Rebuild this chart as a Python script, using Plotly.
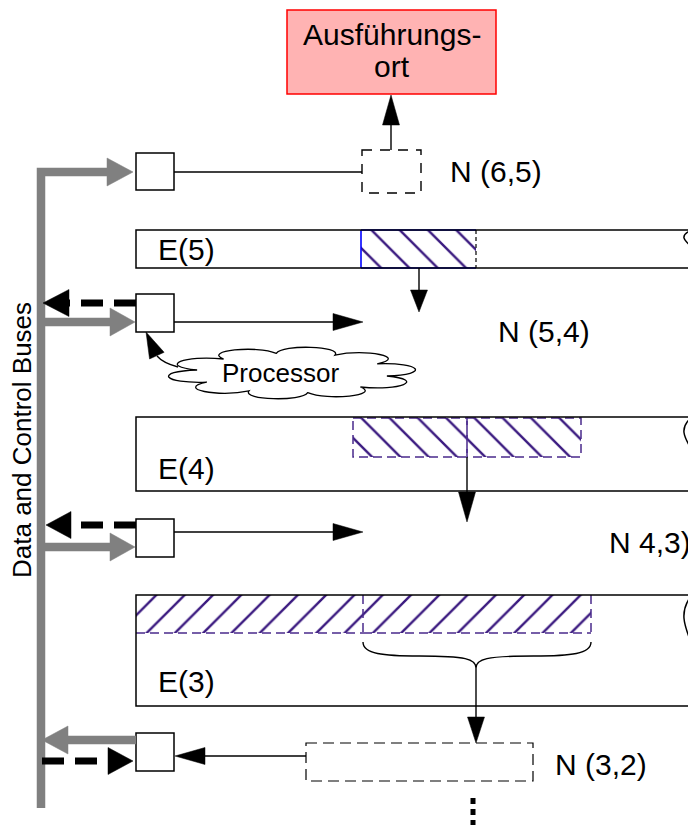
import math
import plotly.graph_objects as go

W, H = 696, 825
OFF = 8  # default page margin of the browser body
FONT = "Liberation Sans, Arial, Helvetica, sans-serif"

# ---------------- text content ----------------
title_lines = ["Ausführungs-", "ort"]
bus_label = "Data and Control Buses"
cloud_label = "Processor"
node_labels = ["N (6,5)", "N (5,4)", "N 4,3)", "N (3,2)"]
bar_labels = ["E(5)", "E(4)", "E(3)"]

# ---------------- geometry (pixel space) ----------------
title_box = [287, 496, 10, 94]            # x0, x1, y0, y1
title_line_y = [34, 66]

node_label_x = [448, 496, 607, 553]
node_label_y = [171, 331, 542, 764]

bar_left, bar_right = 136, 692
bar_top = [230, 417, 595]
bar_bottom = [268, 491, 706]
bar_label_x = 156
bar_label_y = [249, 468, 681]

sq_x0, sq_x1 = 136, 174
sq_top = [153, 294, 519, 733]
sq_bottom = [190, 332, 557, 771]

# hatched storage segments
hatch_x0 = [361, 353, 467, 136, 363]
hatch_x1 = [476, 467, 581, 363, 591]
hatch_y0 = [230, 418, 418, 595, 595]
hatch_y1 = [268, 457, 457, 633, 633]
hatch_dir = ["\\", "\\", "\\", "/", "/"]

# dashed (virtual) node boxes
vbox_x0 = [362, 306]
vbox_x1 = [421, 533]
vbox_y0 = [150, 743]
vbox_y1 = [193, 781]

bus_x, bus_top, bus_bottom = 41, 172, 808

# arrows: start x, start y, tip x, tip y, head length, kind
arr_x0 = [391, 419, 467, 476, 174, 174, 306, 41, 41, 41, 136, 136, 136, 42]
arr_y0 = [150, 268, 457, 668, 322, 532, 756, 172, 322, 547, 740, 303, 525, 761]
arr_x1 = [391, 419, 467, 476, 363, 363, 175, 133, 135, 135, 42, 43, 46, 133]
arr_y1 = [95, 312, 522, 743, 322, 532, 756, 172, 322, 547, 740, 303, 525, 761]
arr_len = [30, 22, 30, 26, 30, 30, 30, 26, 25, 25, 26, 26, 25, 25]
arr_kind = ["thin"] * 7 + ["gray"] * 4 + ["dash"] * 3

cloud_cx, cloud_cy, cloud_rx, cloud_ry = 292, 373, 96, 20

STYLE = {
    "thin": dict(width=1.4, color="black", dash="solid", head_w=17),
    "gray": dict(width=8.5, color="#808080", dash="solid", head_w=28),
    "dash": dict(width=7, color="black", dash="22px,11px", head_w=27),
}
HATCH_COLOR = "#3b1a80"

fig = go.Figure()
shapes = []
annotations = []


def seg(x0, y0, x1, y1, color="black", width=1.4, dash="solid"):
    shapes.append(dict(type="line", x0=x0, y0=y0, x1=x1, y1=y1, xref="x", yref="y",
                       line=dict(color=color, width=width, dash=dash)))


def head(tx, ty, ux, uy, L, Wd, color):
    bx, by = tx - ux * L, ty - uy * L
    px, py = -uy * Wd / 2, ux * Wd / 2
    path = f"M{tx},{ty} L{bx + px},{by + py} L{bx - px},{by - py} Z"
    shapes.append(dict(type="path", path=path, xref="x", yref="y",
                       fillcolor=color, line=dict(color=color, width=0.5)))


# ---------------- hatched fills (patterns) ----------------
for x0, x1, y0, y1, d in zip(hatch_x0, hatch_x1, hatch_y0, hatch_y1, hatch_dir):
    fig.add_trace(go.Scatter(
        x=[x0, x1, x1, x0, x0], y=[y0, y0, y1, y1, y0], mode="lines",
        fill="toself", fillcolor="white",
        fillpattern=dict(shape=d, size=20, solidity=0.12, fgcolor=HATCH_COLOR,
                         fgopacity=1, bgcolor="white"),
        line=dict(width=0, color="rgba(0,0,0,0)"), hoverinfo="skip", showlegend=False))

# borders of hatched regions
seg(hatch_x0[0], hatch_y0[0], hatch_x1[0], hatch_y0[0], "#0000ff", 1.6)
seg(hatch_x0[0], hatch_y1[0], hatch_x1[0], hatch_y1[0], "#0000ff", 1.6)
seg(hatch_x0[0], hatch_y0[0], hatch_x0[0], hatch_y1[0], "#0000ff", 1.6)
seg(hatch_x1[0], hatch_y0[0], hatch_x1[0], hatch_y1[0], "black", 1.2, "4px,3px")
for i in (1, 2):
    shapes.append(dict(type="rect", x0=hatch_x0[i], x1=hatch_x1[i], y0=hatch_y0[i], y1=hatch_y1[i],
                       xref="x", yref="y", line=dict(color="#4a2a8c", width=1.5, dash="9px,5px")))
for i in (3, 4):
    seg(hatch_x0[i], hatch_y1[i], hatch_x1[i], hatch_y1[i], "#4a2a8c", 1.5, "9px,5px")
    seg(hatch_x1[i], hatch_y0[i], hatch_x1[i], hatch_y1[i], "#4a2a8c", 1.5, "9px,5px")

# ---------------- storage bars with wavy break ----------------
for t, b in zip(bar_top, bar_bottom):
    h = b - t
    path = (f"M{bar_right},{t} L{bar_left},{t} L{bar_left},{b} L{bar_right - 2},{b} "
            f"M{bar_right},{t} C{bar_right - 28},{t + 0.3 * h} {bar_right + 28},{t + 0.55 * h} {bar_right - 2},{b}")
    shapes.append(dict(type="path", path=path, xref="x", yref="y",
                       line=dict(color="black", width=1.5)))

# ---------------- small node squares ----------------
for t, b in zip(sq_top, sq_bottom):
    shapes.append(dict(type="rect", x0=sq_x0, x1=sq_x1, y0=t, y1=b, xref="x", yref="y",
                       line=dict(color="black", width=1.5), fillcolor="white"))

shapes.append(dict(type="rect", x0=vbox_x0[0], x1=vbox_x1[0], y0=vbox_y0[0], y1=vbox_y1[0],
                   xref="x", yref="y", line=dict(color="black", width=1.4, dash="10px,8px")))
shapes.append(dict(type="rect", x0=vbox_x0[1], x1=vbox_x1[1], y0=vbox_y0[1], y1=vbox_y1[1],
                   xref="x", yref="y", line=dict(color="black", width=1.2, dash="11px,6px")))
seg(sq_x1, 172, vbox_x0[0], 172)

shapes.append(dict(type="rect", x0=title_box[0], x1=title_box[1], y0=title_box[2], y1=title_box[3],
                   xref="x", yref="y", line=dict(color="#ff0000", width=1.5), fillcolor="#ffb3b3"))

# ---------------- bus ----------------
shapes.append(dict(type="path", path=f"M{bus_x},{bus_bottom} L{bus_x},{bus_top} L{arr_x1[7] - arr_len[7]},{bus_top}",
                   xref="x", yref="y", line=dict(color="#808080", width=8.5)))

# ---------------- arrows ----------------
for x0, y0, x1, y1, L, k in zip(arr_x0, arr_y0, arr_x1, arr_y1, arr_len, arr_kind):
    st = STYLE[k]
    d = math.hypot(x1 - x0, y1 - y0)
    ux, uy = (x1 - x0) / d, (y1 - y0) / d
    bx, by = x1 - ux * L, y1 - uy * L
    if not (k == "gray" and y0 == bus_top):
        seg(x0, y0, bx + ux * 1, by + uy * 1, st["color"], st["width"], st["dash"])
    head(x1, y1, ux, uy, L, st["head_w"], st["color"])

# brace under E(3) segment
bx0, bx1, bmid = hatch_x0[4], hatch_x1[4], arr_x0[3]
brace = (f"M{bx0},642 C{bx0},654 {bx0 + 20},656 {(bx0 + bmid) / 2},656 "
         f"C{bmid - 10},656 {bmid},659 {bmid},668 "
         f"C{bmid},659 {bmid + 10},656 {(bmid + bx1) / 2},656 "
         f"C{bx1 - 20},656 {bx1},654 {bx1},642")
shapes.append(dict(type="path", path=brace, xref="x", yref="y", line=dict(color="black", width=1.4)))

seg(473, 798, 473, 825, "black", 5, "6px,5px")

# ---------------- processor cloud ----------------
n = 10
angles = [2 * math.pi * i / n + 0.15 for i in range(n + 1)]
path = ""
for i in range(n):
    a0, a1 = angles[i], angles[i + 1]
    da = a1 - a0
    p0 = (cloud_cx + cloud_rx * math.cos(a0), cloud_cy + cloud_ry * math.sin(a0))
    p1 = (cloud_cx + cloud_rx * math.cos(a1), cloud_cy + cloud_ry * math.sin(a1))
    k = 1.45
    c1 = (cloud_cx + k * cloud_rx * math.cos(a0 + da * 0.15), cloud_cy + k * cloud_ry * math.sin(a0 + da * 0.15))
    c2 = (cloud_cx + k * cloud_rx * math.cos(a1 - da * 0.15), cloud_cy + k * cloud_ry * math.sin(a1 - da * 0.15))
    if i == 0:
        path += f"M{p0[0]:.1f},{p0[1]:.1f} "
    path += f"C{c1[0]:.1f},{c1[1]:.1f} {c2[0]:.1f},{c2[1]:.1f} {p1[0]:.1f},{p1[1]:.1f} "
path += "Z"
shapes.append(dict(type="path", path=path, xref="x", yref="y",
                   line=dict(color="black", width=1.3), fillcolor="white"))

shapes.append(dict(type="path", path="M178,367 Q163,363 157,356", xref="x", yref="y",
                   line=dict(color="black", width=1.3)))
dx, dy = 146 - 157, 332 - 356
dl = math.hypot(dx, dy)
head(146, 332, dx / dl, dy / dl, 26, 16, "black")

# ---------------- text ----------------
for txt, y in zip(title_lines, title_line_y):
    annotations.append(dict(x=(title_box[0] + title_box[1]) / 2, y=y, text=txt, showarrow=False,
                            xref="x", yref="y", font=dict(size=30, color="black", family=FONT)))
for txt, x, y in zip(node_labels, node_label_x, node_label_y):
    annotations.append(dict(x=x, y=y, text=txt, showarrow=False, xanchor="left", xref="x", yref="y",
                            font=dict(size=30, color="black", family=FONT)))
for txt, y in zip(bar_labels, bar_label_y):
    annotations.append(dict(x=bar_label_x, y=y, text=txt, showarrow=False, xanchor="left", xref="x", yref="y",
                            font=dict(size=30, color="black", family=FONT)))
annotations.append(dict(x=280, y=373, text=cloud_label, showarrow=False, xref="x", yref="y",
                        font=dict(size=26, color="black", family=FONT)))
annotations.append(dict(x=22, y=440, text=bus_label, showarrow=False, textangle=-90, xref="x", yref="y",
                        font=dict(size=26, color="black", family=FONT)))

fig.update_layout(
    width=W - OFF, height=H - OFF, margin=dict(l=0, r=0, t=0, b=0),
    paper_bgcolor="white", plot_bgcolor="white", showlegend=False,
    xaxis=dict(range=[OFF, W], visible=False, fixedrange=True),
    yaxis=dict(range=[H, OFF], visible=False, fixedrange=True),
    shapes=shapes, annotations=annotations,
)
fig.write_html("out.html")
